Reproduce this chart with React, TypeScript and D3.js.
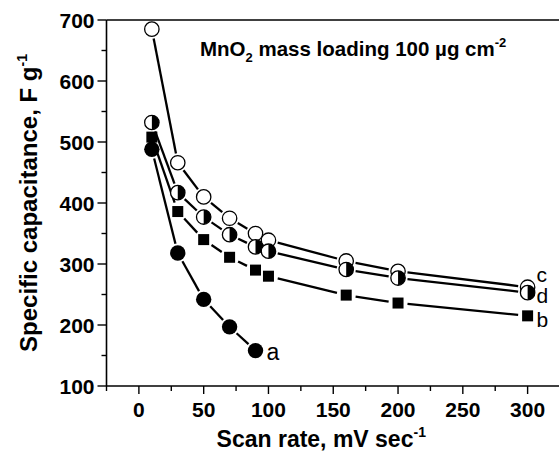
import React from "react";
import * as d3 from "d3";

const scanA = [10, 30, 50, 70, 90];
const capA = [488, 318, 242, 197, 158];
const scanB = [10, 30, 50, 70, 90, 100, 160, 200, 300];
const capB = [508, 386, 340, 311, 290, 280, 249, 236, 215];
const scanC = [10, 30, 50, 70, 90, 100, 160, 200, 300];
const capC = [685, 466, 410, 375, 350, 339, 305, 288, 262];
const scanD = [10, 30, 50, 70, 90, 100, 160, 200, 300];
const capD = [532, 417, 377, 348, 328, 321, 291, 277, 253];
const seriesLabels = ["a", "b", "c", "d"];
const xTicks = [0, 50, 100, 150, 200, 250, 300];
const yTicks = [100, 200, 300, 400, 500, 600, 700];

const W = 559;
const H = 451;
const L = 106.5, T = 20, R = 560, B = 386;
const FONT = "'Liberation Sans', Arial, Helvetica, sans-serif";

const x = d3.scaleLinear().domain([-25, 325]).range([L, R]);
const y = d3.scaleLinear().domain([100, 700]).range([B, T]);

type Pt = { px: number; py: number };

function segs(xs: number[], ys: number[], gap: number) {
  const pts: Pt[] = xs.map((v, i) => ({ px: x(v), py: y(ys[i]) }));
  const out: string[] = [];
  for (let i = 0; i < pts.length - 1; i++) {
    const a = pts[i], b = pts[i + 1];
    const dx = b.px - a.px, dy = b.py - a.py;
    const len = Math.hypot(dx, dy);
    if (len <= gap * 2) continue;
    const ux = dx / len, uy = dy / len;
    const p = d3.path();
    p.moveTo(a.px + ux * gap, a.py + uy * gap);
    p.lineTo(b.px - ux * gap, b.py - uy * gap);
    out.push(p.toString());
  }
  return out;
}

export default function App() {
  const r = 7.2;
  const sq = 11;
  const gap = 9.5;
  const lineW = 2.3;
  const xMinor = d3.range(-25, 326, 25).filter((v) => !xTicks.includes(v));
  const yMinor = d3.range(150, 700, 100);

  const series = [
    { xs: scanA, ys: capA, kind: "filled" },
    { xs: scanB, ys: capB, kind: "square" },
    { xs: scanC, ys: capC, kind: "open" },
    { xs: scanD, ys: capD, kind: "half" },
  ];

  const halfPath = (cx: number, cy: number) => {
    const p = d3.path();
    p.moveTo(cx, cy - r);
    p.arc(cx, cy, r, -Math.PI / 2, Math.PI / 2, false);
    p.closePath();
    return p.toString();
  };

  return (
    <svg
      width={W}
      height={H}
      style={{ position: "absolute", left: 0, top: 0, background: "#fff" }}
      fontFamily={FONT}
    >
      <rect x={0} y={0} width={W} height={H} fill="#fff" />
      {/* frame */}
      <line x1={L} y1={T} x2={L} y2={B} stroke="#000" strokeWidth={1.6} />
      <line x1={L} y1={B} x2={R} y2={B} stroke="#000" strokeWidth={1.6} />
      <line x1={L} y1={T} x2={R} y2={T} stroke="#000" strokeWidth={1.6} />

      {/* y ticks */}
      {yTicks.map((v) => (
        <g key={"yt" + v}>
          <line x1={L - 9} x2={L} y1={y(v)} y2={y(v)} stroke="#000" strokeWidth={1.4} />
          <text x={L - 12} y={y(v)} dy="0.36em" textAnchor="end" fontSize={21} fontWeight="bold">
            {v}
          </text>
        </g>
      ))}
      {yMinor.map((v) => (
        <line key={"ym" + v} x1={L - 5} x2={L} y1={y(v)} y2={y(v)} stroke="#000" strokeWidth={1.4} />
      ))}

      {/* x ticks */}
      {xTicks.map((v) => (
        <g key={"xt" + v}>
          <line x1={x(v)} x2={x(v)} y1={B} y2={B + 8} stroke="#000" strokeWidth={1.4} />
          <text x={x(v)} y={B + 31} textAnchor="middle" fontSize={21} fontWeight="bold">
            {v}
          </text>
        </g>
      ))}
      {xMinor.map((v) => (
        <line key={"xm" + v} x1={x(v)} x2={x(v)} y1={B} y2={B + 5} stroke="#000" strokeWidth={1.4} />
      ))}

      {/* axis titles */}
      <text x={(L + R) / 2 - 12} y={447} textAnchor="middle" fontSize={23} fontWeight="bold">
        Scan rate, mV sec<tspan dy={-10} fontSize={14}>-1</tspan>
      </text>
      <text
        transform={`translate(37, ${(T + B) / 2}) rotate(-90)`}
        textAnchor="middle"
        fontSize={24}
        fontWeight="bold"
      >
        Specific capacitance, F g<tspan dy={-10} fontSize={14}>-1</tspan>
      </text>

      {/* annotation */}
      <text x={200} y={56} fontSize={20.5} fontWeight="bold">
        MnO<tspan dy={6} fontSize={13}>2</tspan>
        <tspan dy={-6}> mass loading 100 µg cm</tspan>
        <tspan dy={-9} fontSize={13}>-2</tspan>
      </text>

      {/* lines */}
      {series.map((s, i) =>
        segs(s.xs, s.ys, gap).map((d, j) => (
          <path key={"l" + i + "-" + j} d={d} stroke="#000" strokeWidth={lineW} fill="none" />
        ))
      )}

      {/* markers */}
      {series.map((s, i) =>
        s.xs.map((v, j) => {
          const cx = x(v), cy = y(s.ys[j]);
          if (s.kind === "square")
            return <rect key={"m" + i + j} x={cx - sq / 2} y={cy - sq / 2} width={sq} height={sq} fill="#000" />;
          if (s.kind === "filled")
            return <circle key={"m" + i + j} cx={cx} cy={cy} r={r + 0.5} fill="#000" />;
          if (s.kind === "open")
            return <circle key={"m" + i + j} cx={cx} cy={cy} r={r} fill="#fff" stroke="#000" strokeWidth={1.3} />;
          return (
            <g key={"m" + i + j}>
              <circle cx={cx} cy={cy} r={r} fill="#fff" stroke="#000" strokeWidth={1.3} />
              <path d={halfPath(cx, cy)} fill="#000" />
            </g>
          );
        })
      )}

      {/* series labels */}
      <text x={x(scanA[scanA.length - 1]) + 11} y={y(capA[capA.length - 1]) + 9} fontSize={23}>
        {seriesLabels[0]}
      </text>
      <text x={x(scanB[scanB.length - 1]) + 9} y={y(capB[capB.length - 1]) + 11} fontSize={21}>
        {seriesLabels[1]}
      </text>
      <text x={x(scanC[scanC.length - 1]) + 9} y={y(capC[capC.length - 1]) - 5} fontSize={21}>
        {seriesLabels[2]}
      </text>
      <text x={x(scanD[scanD.length - 1]) + 9} y={y(capD[capD.length - 1]) + 10} fontSize={21}>
        {seriesLabels[3]}
      </text>
    </svg>
  );
}
